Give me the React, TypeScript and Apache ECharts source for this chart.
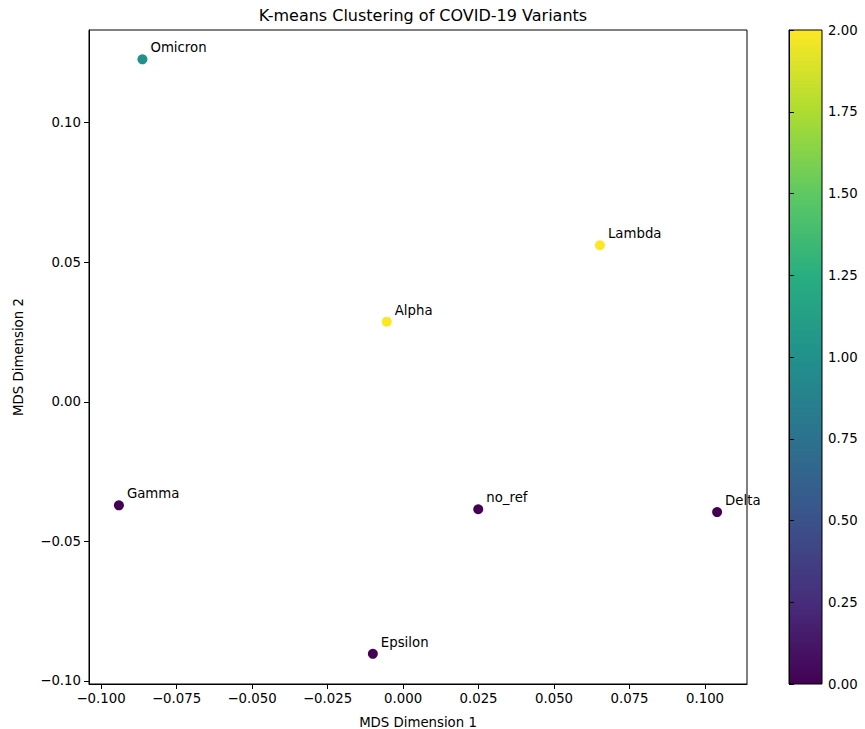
import React, { useEffect, useRef } from "react";
import * as echarts from "echarts";

const names = ["Omicron", "Lambda", "Alpha", "Gamma", "no_ref", "Delta", "Epsilon"];
const xs = [-0.0863, 0.0652, -0.0054, -0.0941, 0.0249, 0.104, -0.01];
const ys = [0.1227, 0.0561, 0.0287, -0.0371, -0.0385, -0.0395, -0.0903];
const clusters = [1, 2, 2, 0, 0, 0, 0];
const xTicks = [-0.1, -0.075, -0.05, -0.025, 0, 0.025, 0.05, 0.075, 0.1];
const yTicks = [-0.1, -0.05, 0, 0.05, 0.1];
const viridis = ["#440154", "#472d7b", "#3b528b", "#2c728e", "#21918c", "#28ae80", "#5ec962", "#addc30", "#fde725"];

const FONT = "DejaVu Sans";
const fmt = (v: number, d: number) => {
  const s = Math.abs(v).toFixed(d);
  return (v < -1e-9 ? "\u2212" : "") + s;
};

export default function App() {
  const ref = useRef<HTMLDivElement>(null);
  useEffect(() => {
    if (!ref.current) return;
    const chart = echarts.init(ref.current, undefined, { renderer: "svg" });
    const data = names.map((n, i) => ({ name: n, value: [xs[i], ys[i], clusters[i]] }));
    const W = 865;
    const H = 729;
    const gL = 89, gT = 30, gR = 747, gB = 684;
    const cbL = 789, cbR = 822;
    chart.setOption({
      animation: false,
      backgroundColor: "#fff",
      textStyle: { fontFamily: FONT },
      title: {
        text: "K-means Clustering of COVID-19 Variants",
        left: (gL + gR) / 2,
        top: 2,
        textAlign: "center",
        textStyle: { fontFamily: FONT, fontSize: 16, fontWeight: "normal", color: "#000" },
      },
      grid: [
        { left: gL, top: gT, right: W - gR, bottom: H - gB, show: true, borderColor: "#000", borderWidth: 1, containLabel: false, outerBoundsMode: "none" },
        { left: cbL, top: gT, right: W - cbR, bottom: H - gB, show: false, containLabel: false, outerBoundsMode: "none" },
      ],
      xAxis: [
        {
          type: "value",
          gridIndex: 0,
          min: -0.104,
          max: 0.1139,
          name: "MDS Dimension 1",
          nameLocation: "middle",
          nameGap: 31,
          nameTextStyle: { fontFamily: FONT, fontSize: 13.3, lineHeight: 14, color: "#000" },
          axisLine: { show: true, onZero: false, lineStyle: { color: "#000", width: 1 } },
          axisTick: { show: true, length: 5, customValues: xTicks, lineStyle: { color: "#000" } },
          axisLabel: { customValues: xTicks, margin: 8, fontFamily: FONT, fontSize: 13.3, color: "#000", formatter: (v: number) => fmt(v, 3) },
          splitLine: { show: false },
        },
        { type: "value", gridIndex: 1, min: 0, max: 1, show: false },
      ],
      yAxis: [
        {
          type: "value",
          gridIndex: 0,
          min: -0.1011,
          max: 0.1332,
          name: "MDS Dimension 2",
          nameLocation: "middle",
          nameGap: 64,
          nameTextStyle: { fontFamily: FONT, fontSize: 13.3, color: "#000" },
          axisLine: { show: true, onZero: false, lineStyle: { color: "#000", width: 1 } },
          axisTick: { show: true, length: 5, customValues: yTicks, lineStyle: { color: "#000" } },
          axisLabel: { customValues: yTicks, margin: 8, fontFamily: FONT, fontSize: 13.3, color: "#000", formatter: (v: number) => fmt(v, 2) },
          splitLine: { show: false },
        },
        {
          type: "value",
          gridIndex: 1,
          position: "right",
          min: 0,
          max: 2,
          interval: 0.25,
          axisLine: { show: true, lineStyle: { color: "#000", width: 1 } },
          axisTick: { show: true, length: 5, lineStyle: { color: "#000" } },
          axisLabel: { margin: 6, fontFamily: FONT, fontSize: 13.3, color: "#000", formatter: (v: number) => v.toFixed(2) },
          splitLine: { show: false },
        },
      ],
      visualMap: {
        show: false,
        type: "continuous",
        min: 0,
        max: 2,
        dimension: 2,
        seriesIndex: 0,
        inRange: { color: viridis },
      },
      graphic: [
        {
          type: "rect",
          z: -1,
          shape: { x: cbL, y: gT, width: cbR - cbL, height: gB - gT },
          style: {
            stroke: "#000",
            lineWidth: 1,
            fill: new echarts.graphic.LinearGradient(
              0, 1, 0, 0,
              viridis.map((c, i) => ({ offset: i / (viridis.length - 1), color: c }))
            ),
          },
        },
      ],
      series: [
        {
          type: "scatter",
          xAxisIndex: 0,
          yAxisIndex: 0,
          symbolSize: 10,
          itemStyle: { opacity: 1 },
          data,
          label: {
            show: true,
            formatter: "{b}",
            position: [13, -13],
            align: "left",
            verticalAlign: "top",
            fontFamily: FONT,
            fontSize: 13.3,
            color: "#000",
          },
        },
      ],
    });
    return () => chart.dispose();
  }, []);
  return <div ref={ref} style={{ width: 865, height: 729, position: "absolute", left: 0, top: 0 }} />;
}
